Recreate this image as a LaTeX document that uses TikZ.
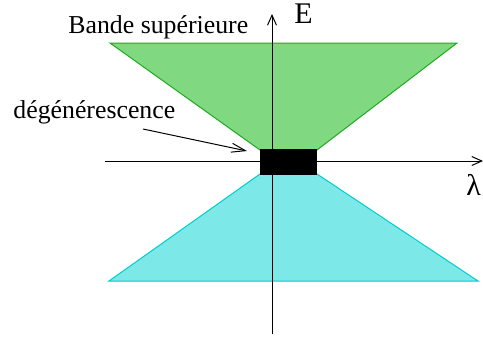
\documentclass[tikz,border=0pt]{standalone}
\usepackage{fontspec}
\setmainfont{Liberation Serif}
\usetikzlibrary{arrows.meta}
\definecolor{bandvert}{RGB}{128,217,128}
\definecolor{bordvert}{RGB}{30,170,30}
\definecolor{bandcyan}{RGB}{125,232,232}
\definecolor{bordcyan}{RGB}{0,205,205}

\begin{document}
\begin{tikzpicture}[
	x=0.5pt,y=-0.5pt,
	axe/.style={-{Straight Barb[length=5pt,width=4.5pt]},line width=0.5pt},
	fleche/.style={-{Straight Barb[length=7pt,width=4.5pt]},line width=0.5pt},
	lbl/.style={inner sep=0pt,anchor=base west,font=\fontsize{12.9}{15}\selectfont},
	grand/.style={inner sep=0pt,anchor=base west,font=\fontsize{15}{18}\selectfont},
	bande/.style={line width=0.5pt}
	]
	\useasboundingbox (0,0) rectangle (483,339);
	% les deux bandes
	\filldraw[bande,fill=bandvert,draw=bordvert] (110,43) -- (457,43) -- (317,150) -- (260,150) -- cycle;
	\filldraw[bande,fill=bandcyan,draw=bordcyan] (109,281) -- (478,281) -- (317,174) -- (260,174) -- cycle;
	% axes
	\coordinate (lg) at (105,161);
	\coordinate (ld) at (483,161);
	\coordinate (eb) at (272,334);
	\coordinate (eh) at (272,14);
	\draw[axe] (lg) -- (ld);
	\draw[axe] (eb) -- (eh);
	\node[fill=black,inner sep=0pt,minimum width=28.5pt,minimum height=13pt] (deg) at (288.5,162) {};
	% textes
	\node[lbl] (sup) at (68,33) {Bande supérieure};
	\node[lbl] (dtxt) at (13,118) {dégénérescence};
	\node[grand] (en) at (294,23) {E};
	\node[grand] (lam) at (466,195) {λ};
	\coordinate (fa) at (143,129);
	\coordinate (fb) at (247,151);
	\draw[fleche] (fa) -- (fb);
\end{tikzpicture}
\end{document}
